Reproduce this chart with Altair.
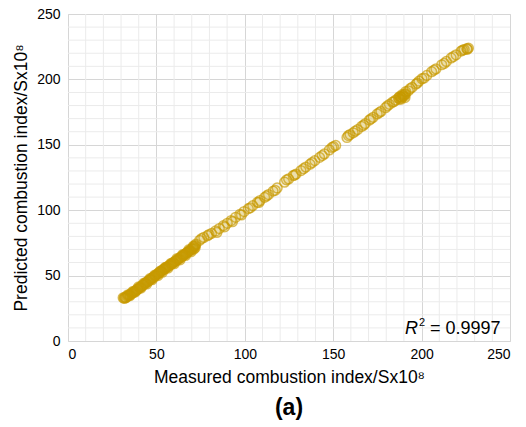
import altair as alt
import pandas as pd

# Dense low-range measurements
measured_low = [31.2, 31.8, 32.1, 32.9, 33.4, 34.0, 34.6, 35.3, 35.9, 36.4, 37.2, 37.8, 38.5, 39.1, 39.6,
                40.4, 41.0, 41.7, 42.3, 42.8, 43.6, 44.1, 44.9, 45.4, 46.0, 46.7, 47.3, 47.9, 48.6, 49.2,
                49.8, 50.5, 51.1, 51.6, 52.4, 52.9, 53.7, 54.2, 54.8, 55.5, 56.1, 56.9, 57.4, 58.0, 58.7,
                59.3, 59.8, 60.6, 61.2, 61.9, 62.5, 63.0, 63.8, 64.3, 65.0, 65.6, 66.2, 66.9, 67.5, 68.1,
                68.6, 69.3, 69.9, 70.4, 70.8, 71.2, 71.6, 72.0, 72.3]
predicted_low = [33.0, 32.6, 33.5, 33.2, 34.1, 34.5, 35.2, 35.6, 36.3, 36.9, 37.3, 38.1, 38.6, 39.4, 39.8,
                 40.7, 41.3, 41.8, 42.7, 43.1, 44.0, 44.6, 45.2, 45.9, 46.5, 47.0, 47.8, 48.4, 49.0, 49.8,
                 50.2, 51.1, 51.6, 52.3, 53.0, 53.6, 54.3, 54.9, 55.3, 56.2, 56.5, 57.3, 57.8, 58.4, 59.0,
                 59.7, 60.1, 60.9, 61.4, 62.2, 62.6, 63.3, 63.9, 64.6, 65.2, 65.9, 66.3, 67.1, 67.8, 68.2,
                 68.9, 69.5, 70.2, 70.6, 71.5, 70.3, 72.4, 73.1, 74.0]

# Second batch of low-range samples (slightly scattered around the first)
measured_low2 = [32.4, 33.9, 35.0, 36.8, 38.0, 39.9, 41.3, 43.0, 44.5, 46.3, 47.6, 49.0, 50.9, 52.1,
                 53.4, 55.0, 56.6, 58.3, 60.1, 61.6, 63.4, 64.8, 66.5, 68.4, 69.6, 71.0, 71.9]
predicted_low2 = [32.9, 35.3, 34.6, 38.0, 37.4, 41.3, 40.5, 44.3, 43.6, 47.6, 46.9, 50.3, 50.0, 53.4,
                  52.6, 56.3, 55.8, 59.4, 59.1, 62.9, 62.1, 66.0, 65.4, 69.8, 68.3, 72.6, 71.2]

# Sparse higher-range measurements
measured_high = [74.5, 76.8, 78.9, 81.2, 83.5, 85.6, 87.9, 90.1, 92.3, 94.8, 97.2, 99.6, 102.0, 104.5,
                 107.1, 108.6, 111.2, 113.4, 116.0, 118.3, 122.5, 124.8, 127.4, 129.0, 131.8, 134.5,
                 136.9, 139.6, 142.3, 145.0, 147.8, 150.2, 151.4, 157.8, 159.5, 161.3, 163.8, 166.0,
                 168.1, 170.5, 172.6, 174.9, 177.0, 179.6, 181.8, 183.5, 185.4, 186.9, 188.2, 189.4,
                 190.3, 191.0, 192.5, 194.6, 196.8, 198.5, 200.2, 202.9, 205.7, 208.1, 211.4, 214.0,
                 216.7, 219.5, 222.3, 224.1, 225.6, 226.5]
predicted_high = [77.0, 79.2, 80.5, 82.3, 84.1, 86.0, 88.2, 90.0, 92.1, 94.6, 96.8, 99.0, 101.2, 103.5,
                  106.0, 107.4, 109.8, 112.0, 114.6, 117.0, 121.4, 123.9, 126.5, 127.6, 130.3, 133.0,
                  135.2, 137.9, 140.4, 143.0, 146.1, 148.6, 149.5, 155.6, 157.8, 159.2, 161.6, 164.0,
                  166.2, 168.9, 171.0, 173.6, 175.5, 178.4, 180.9, 182.6, 184.2, 185.8, 186.7, 187.5,
                  188.4, 190.6, 191.3, 193.9, 196.4, 198.6, 200.5, 203.0, 205.9, 208.0, 211.2, 213.7,
                  216.4, 218.8, 221.6, 222.8, 223.5, 223.9]

# Second batch of higher-range samples
measured_high2 = [75.6, 79.8, 84.2, 88.6, 93.0, 98.1, 103.1, 108.0, 112.3, 117.2, 123.6, 128.2, 133.2,
                  138.1, 143.8, 149.3, 158.6, 162.4, 167.2, 171.4, 176.1, 180.7, 184.4, 187.6, 193.5,
                  197.6, 201.4, 207.0, 212.8, 218.0, 223.2, 225.9]
predicted_high2 = [78.3, 81.4, 83.0, 87.3, 91.2, 96.4, 101.8, 105.9, 110.9, 115.2, 123.2, 126.9, 131.7,
                   136.4, 141.8, 148.0, 157.1, 160.4, 165.0, 169.9, 174.6, 179.8, 183.0, 186.9, 192.9,
                   197.2, 201.0, 207.1, 212.2, 217.5, 222.3, 223.0]

# Cluster near 185-191
measured_cluster = [187.5, 188.8, 189.9, 190.6, 189.0, 190.9, 188.3]
predicted_cluster = [185.0, 186.2, 187.0, 186.1, 188.3, 188.9, 184.9]

major_ticks = [0, 50, 100, 150, 200, 250]
minor_ticks = [10, 20, 30, 40, 60, 70, 80, 90, 110, 120, 130, 140, 160, 170, 180, 190,
               210, 220, 230, 240]

df = pd.DataFrame({
    "measured": measured_low + measured_low2 + measured_high + measured_high2 + measured_cluster,
    "predicted": predicted_low + predicted_low2 + predicted_high + predicted_high2 + predicted_cluster,
})
minor_df = pd.DataFrame({"v": minor_ticks})

FONT = "Liberation Sans"
GOLD = "#C79A00"
xs = alt.Scale(domain=[0, 250], nice=False)
ys = alt.Scale(domain=[0, 250], nice=False)

x_axis = alt.Axis(
    title="Measured combustion index/Sx10⁸", values=major_ticks, grid=True,
    gridColor="#d6d6d6", domain=False, ticks=False, labelPadding=6,
    labelFontSize=14, titleFontSize=17.5, titlePadding=7, titleFontWeight="normal")
y_axis = alt.Axis(
    title="Predicted combustion index/Sx10⁸", values=major_ticks, grid=True,
    gridColor="#d6d6d6", domain=False, ticks=False, labelPadding=8,
    labelFontSize=14, titleFontSize=17.5, titlePadding=6, titleFontWeight="normal")

minor_x = alt.Chart(minor_df).mark_rule(color="#ebebeb", strokeWidth=1).encode(
    x=alt.X("v:Q", scale=xs, axis=x_axis))
minor_y = alt.Chart(minor_df).mark_rule(color="#ebebeb", strokeWidth=1).encode(
    y=alt.Y("v:Q", scale=ys, axis=y_axis))

points = alt.Chart(df).mark_point(
    shape="circle", size=95, fill=GOLD, fillOpacity=0.12,
    stroke=GOLD, strokeOpacity=0.65, strokeWidth=1.5
).encode(
    x=alt.X("measured:Q", scale=xs, axis=x_axis),
    y=alt.Y("predicted:Q", scale=ys, axis=y_axis),
)

r_txt = alt.Chart(pd.DataFrame({"t": ["R"]})).mark_text(
    font=FONT, fontSize=18, fontStyle="italic", align="left", baseline="alphabetic", color="black"
).encode(x=alt.value(337), y=alt.value(320), text="t:N")
sup_txt = alt.Chart(pd.DataFrame({"t": ["2"]})).mark_text(
    font=FONT, fontSize=11, align="left", baseline="alphabetic", color="black"
).encode(x=alt.value(351), y=alt.value(312), text="t:N")
val_txt = alt.Chart(pd.DataFrame({"t": ["= 0.9997"]})).mark_text(
    font=FONT, fontSize=18, align="left", baseline="alphabetic", color="black"
).encode(x=alt.value(362), y=alt.value(320), text="t:N")
lab_txt = alt.Chart(pd.DataFrame({"t": ["(a)"]})).mark_text(
    font=FONT, fontSize=23, fontWeight="bold", align="center", baseline="middle", color="black"
).encode(x=alt.value(221), y=alt.value(394), text="t:N")

chart = alt.layer(minor_x, minor_y, points, r_txt, sup_txt, val_txt, lab_txt).properties(
    width=442, height=327,
    autosize=alt.AutoSizeParams(type="none"),
    padding={"left": 68, "top": 14, "right": 16, "bottom": 86},
    background="white",
).configure_view(stroke="#dddddd", strokeWidth=1).configure_axis(
    labelFont=FONT, titleFont=FONT, labelColor="black", titleColor="black"
)

chart.save("out.html", embed_options={"renderer": "svg", "actions": False})
